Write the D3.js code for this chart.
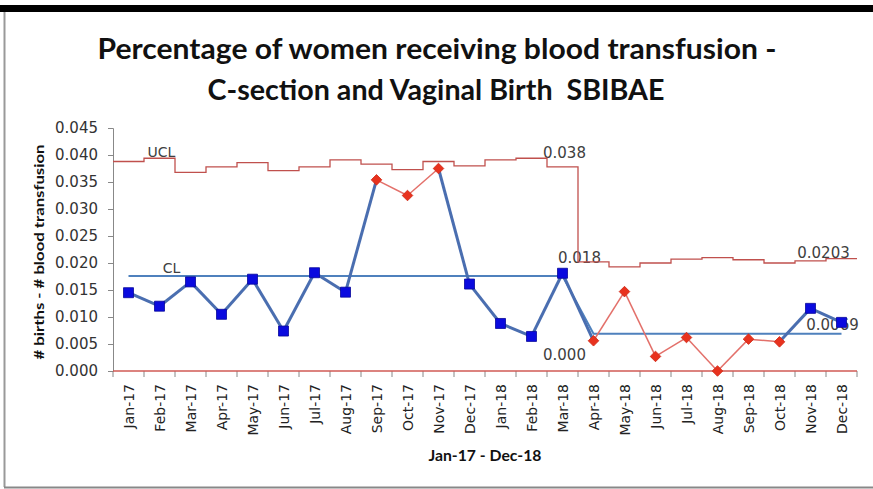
<!DOCTYPE html>
<html>
<head>
<meta charset="utf-8">
<script src="https://cdn.jsdelivr.net/npm/d3@7"></script>
<style>
  body { margin: 0; background: #fff; }
  svg { display: block; }
</style>
</head>
<body>
<svg id="chart" width="873" height="489"></svg>
<script>
// monthly p-chart data
const months = ["Jan-17","Feb-17","Mar-17","Apr-17","May-17","Jun-17","Jul-17","Aug-17","Sep-17","Oct-17","Nov-17","Dec-17",
                "Jan-18","Feb-18","Mar-18","Apr-18","May-18","Jun-18","Jul-18","Aug-18","Sep-18","Oct-18","Nov-18","Dec-18"];
const rates = [0.0145,0.0120,0.0165,0.0105,0.0170,0.0074,0.0182,0.0146,0.0354,0.0325,0.0375,0.0161,
               0.0088,0.0064,0.0181,0.0056,0.0147,0.0027,0.0062,0.0000,0.0059,0.0054,0.0116,0.0090];
// 1 = flagged point (red diamond)
const signal = [0,0,0,0,0,0,0,0,1,1,1,0, 0,0,0,1,1,1,1,1,1,1,0,0];
const ucl = [0.0388,0.0394,0.0368,0.0378,0.0386,0.0371,0.0378,0.0391,0.0383,0.0373,0.0388,0.0380,
             0.0391,0.0394,0.0378,0.0202,0.0193,0.0200,0.0207,0.0210,0.0206,0.0200,0.0204,0.0208];
const cl = [0.0176,0.0176,0.0176,0.0176,0.0176,0.0176,0.0176,0.0176,0.0176,0.0176,0.0176,0.0176,
            0.0176,0.0176,0.0176,0.0069,0.0069,0.0069,0.0069,0.0069,0.0069,0.0069,0.0069,0.0069];
const yTicks = [0,0.005,0.010,0.015,0.020,0.025,0.030,0.035,0.040,0.045];

const svg = d3.select("#chart");
const W = 873, H = 489;

// frame bits of the slide
svg.append("rect").attr("x",0).attr("y",5).attr("width",W).attr("height",7).attr("fill","#000");
svg.append("line").attr("x1",4.5).attr("x2",4.5).attr("y1",12).attr("y2",487).attr("stroke","#999").attr("stroke-width",2);
svg.append("line").attr("x1",4).attr("x2",W).attr("y1",487.5).attr("y2",487.5).attr("stroke","#888").attr("stroke-width",2);

// title
const title = svg.append("g").attr("font-family","Lato, 'Open Sans', sans-serif").attr("font-weight","bold")
  .attr("font-size",28).attr("fill","#111").attr("text-anchor","middle");
title.append("text").attr("x",437).attr("y",59).attr("textLength",679).attr("lengthAdjust","spacingAndGlyphs")
  .text("Percentage of women receiving blood transfusion -");
title.append("text").attr("x",436).attr("y",100).attr("textLength",457).attr("lengthAdjust","spacingAndGlyphs")
  .text("C-section and Vaginal Birth\u00A0 SBIBAE");

const x = d3.scaleBand().domain(months).range([113, 857]).padding(0);
const y = d3.scaleLinear().domain([0, 0.045]).range([371, 128]);
const cx = m => x(m) + x.bandwidth()/2;

// y axis
const yAxis = svg.append("g").attr("transform","translate(113,0)")
  .call(d3.axisLeft(y).tickValues(yTicks).tickFormat(d3.format(".3f")).tickSize(5).tickPadding(10));
yAxis.select(".domain").attr("stroke","#888");
yAxis.selectAll(".tick line").attr("stroke","#888");
yAxis.selectAll(".tick text").attr("font-family","'DejaVu Sans', Verdana, sans-serif").attr("font-size",15).attr("fill","#333");

svg.append("text").attr("transform","translate(44,252) rotate(-90)")
  .attr("text-anchor","middle").attr("font-family","Lato, sans-serif").attr("font-weight","bold")
  .attr("font-size",13).attr("textLength",215).attr("lengthAdjust","spacingAndGlyphs").attr("fill","#111")
  .text("# births - # blood transfusion");

// x axis ticks at band edges
const edges = months.map(m => x(m)).concat([x.range()[1]]);
svg.append("g").selectAll("line").data(edges).join("line")
  .attr("x1",d => d).attr("x2",d => d).attr("y1",371).attr("y2",377)
  .attr("stroke","#888");
svg.append("g").selectAll("text").data(months).join("text")
  .attr("transform",d => `translate(${cx(d)+1},384) rotate(-90)`)
  .attr("text-anchor","end").attr("dy","0.35em")
  .attr("font-family","'DejaVu Sans', Verdana, sans-serif").attr("font-size",14).attr("fill","#222")
  .text(d => d);
svg.append("text").attr("x",485).attr("y",461).attr("text-anchor","middle")
  .attr("font-family","Lato, sans-serif").attr("font-weight","bold").attr("font-size",15)
  .attr("textLength",113).attr("lengthAdjust","spacingAndGlyphs").attr("fill","#111")
  .text("Jan-17 - Dec-18");

// labels (drawn under the lines like in the original)
const lab = svg.append("g").attr("font-family","'DejaVu Sans', Verdana, sans-serif").attr("fill","#404040");
const last1 = months[14], last2 = months[23];
lab.append("text").attr("x",cx(months[1])+2).attr("y",157).attr("text-anchor","middle").attr("font-size",14).text("UCL");
lab.append("text").attr("x",cx(months[1])+12).attr("y",y(cl[0])-3).attr("text-anchor","middle").attr("font-size",14).text("CL");
lab.append("text").attr("x",cx(last1)+2).attr("y",y(ucl[14])-9).attr("text-anchor","middle").attr("font-size",15).text(d3.format(".3f")(ucl[14]));
lab.append("text").attr("x",cx(last1)+17).attr("y",y(cl[14])-13).attr("text-anchor","middle").attr("font-size",15).text(d3.format(".3f")(cl[14]));
lab.append("text").attr("x",cx(last1)+2).attr("y",360).attr("text-anchor","middle").attr("font-size",15).text("0.000");
lab.append("text").attr("x",cx(last2)-18).attr("y",258).attr("text-anchor","middle").attr("font-size",15).text("0.0203");
lab.append("text").attr("x",cx(last2)-9).attr("y",330).attr("text-anchor","middle").attr("font-size",15).text(d3.format(".4f")(cl[23]));

// LCL at zero (red, sits on the axis)
svg.append("line").attr("x1",113).attr("x2",857).attr("y1",y(0)).attr("y2",y(0))
  .attr("stroke","#d05a55").attr("stroke-width",1.5);

// UCL as steps across each month
const uclPts = [];
months.forEach((m,i) => { uclPts.push([x(m), ucl[i]]); uclPts.push([x(m)+x.bandwidth(), ucl[i]]); });
svg.append("path").datum(uclPts)
  .attr("d", d3.line().x(d => d[0]).y(d => y(d[1])))
  .attr("fill","none").attr("stroke","#c0504d").attr("stroke-width",1.3);

// CL
svg.append("path").datum(months)
  .attr("d", d3.line().x(d => cx(d)).y((d,i) => y(cl[i])))
  .attr("fill","none").attr("stroke","#4f81bd").attr("stroke-width",2);

// data line, a segment is red only between two flagged points
const segs = d3.range(1, months.length).map(i => ({a: i-1, b: i, red: signal[i-1] && signal[i]}));
svg.append("g").selectAll("line").data(segs).join("line")
  .attr("x1",d => cx(months[d.a])).attr("y1",d => y(rates[d.a]))
  .attr("x2",d => cx(months[d.b])).attr("y2",d => y(rates[d.b]))
  .attr("stroke",d => d.red ? "#e3706a" : "#4a6eb0")
  .attr("stroke-width",d => d.red ? 1.5 : 3);

// markers
const pts = months.map((m,i) => ({m, v: rates[i], red: signal[i]}));
svg.append("g").selectAll("path").data(pts).join("path")
  .attr("transform",d => `translate(${cx(d.m)},${y(d.v)})` + (d.red ? " rotate(45)" : ""))
  .attr("d",d => d3.symbol(d3.symbolSquare, d.red ? 56 : 100)())
  .attr("fill",d => d.red ? "#e8321e" : "#0a0adf")
  .attr("stroke",d => d.red ? "#d02a18" : "#08089a").attr("stroke-width",0.8);
</script>
</body>
</html>
